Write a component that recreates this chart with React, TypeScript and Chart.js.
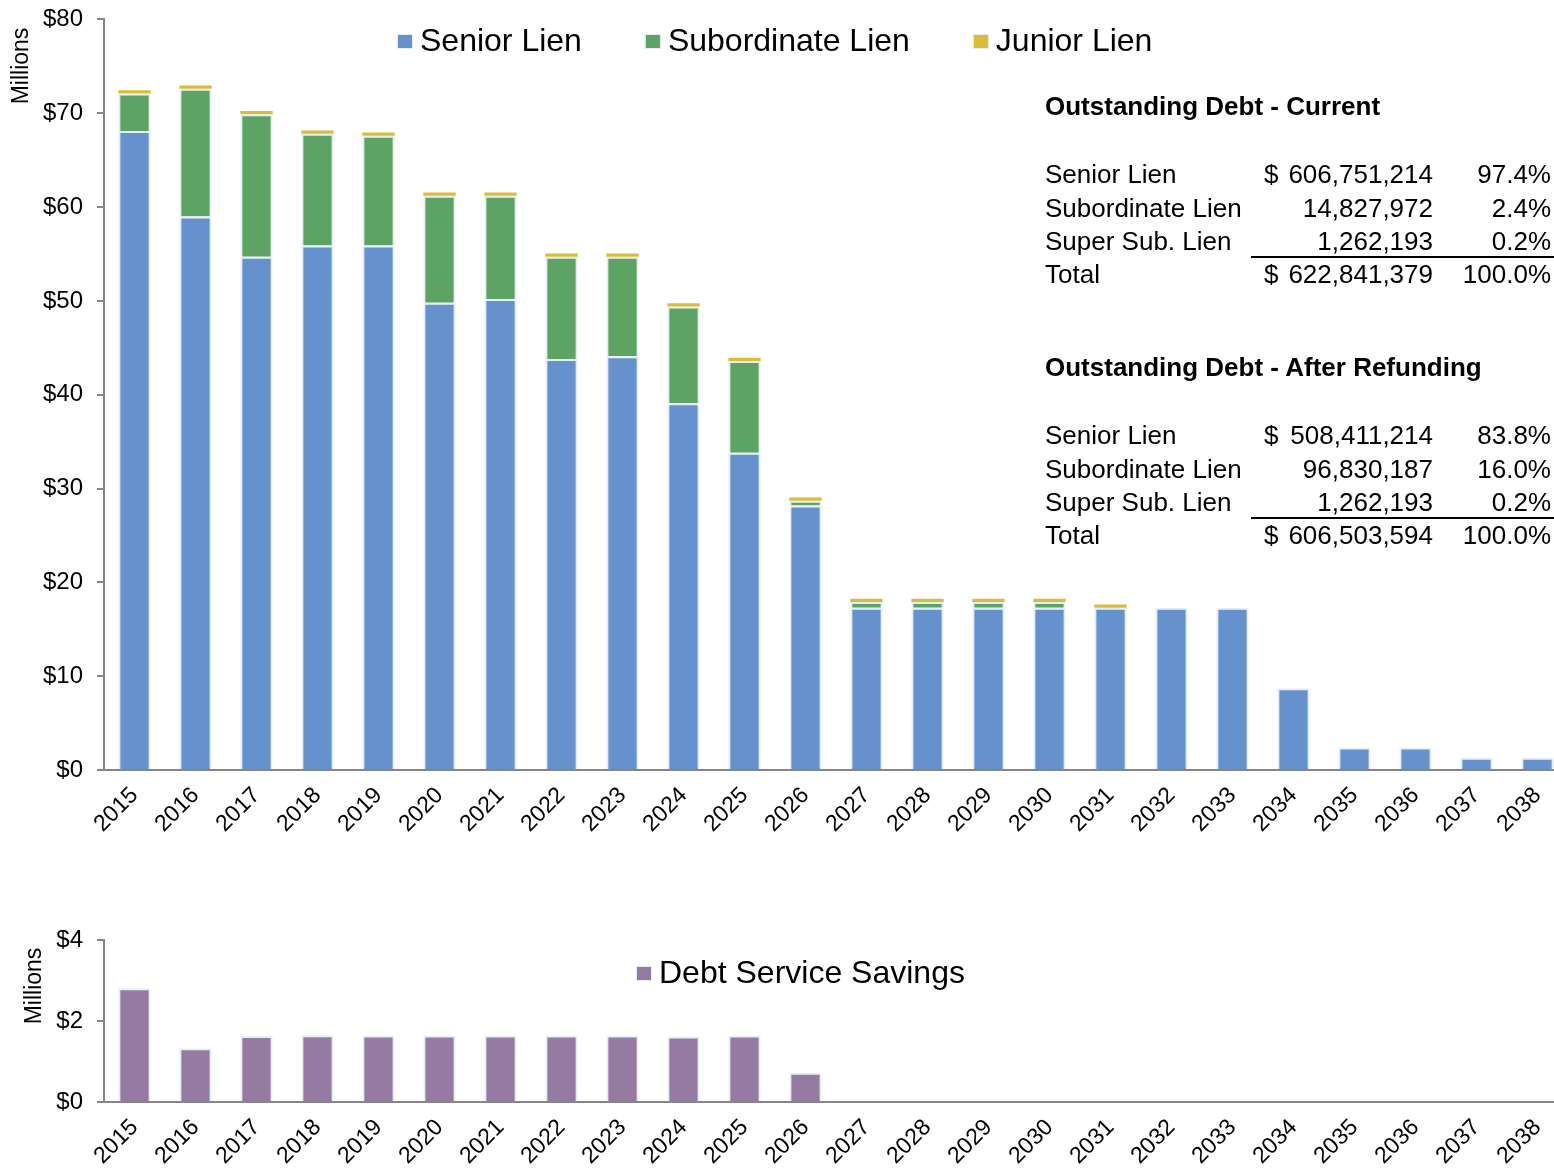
import React, { useEffect, useRef } from 'react';
import { Chart, registerables } from 'chart.js';

Chart.register(...registerables);

// ---------------- data ----------------
const years = [
  '2015', '2016', '2017', '2018', '2019', '2020', '2021', '2022', '2023', '2024', '2025', '2026',
  '2027', '2028', '2029', '2030', '2031', '2032', '2033', '2034', '2035', '2036', '2037', '2038',
];

// $ millions
const seniorLien = [
  68.1, 59.0, 54.7, 55.9, 55.9, 49.8, 50.2, 43.8, 44.1, 39.1, 33.8, 28.2,
  17.3, 17.3, 17.3, 17.3, 17.3, 17.3, 17.3, 8.7, 2.4, 2.4, 1.3, 1.3,
];
const subordinateLien = [
  4.0, 13.6, 15.2, 11.9, 11.7, 11.4, 11.0, 10.9, 10.6, 10.3, 9.8, 0.5,
  0.6, 0.6, 0.6, 0.6, 0, 0, 0, 0, 0, 0, 0, 0,
];
const juniorLien = [
  0.35, 0.35, 0.35, 0.35, 0.35, 0.35, 0.35, 0.35, 0.35, 0.35, 0.35, 0.35,
  0.35, 0.35, 0.35, 0.35, 0.35, 0, 0, 0, 0, 0, 0, 0,
];
const debtServiceSavings = [
  2.81, 1.33, 1.63, 1.65, 1.64, 1.64, 1.64, 1.64, 1.64, 1.62, 1.64, 0.72,
  0.02, 0.02, 0.02, 0.02, 0.02, 0, 0, 0, 0, 0, 0, 0,
];

const topAxisMax = 80;
const topAxisStep = 10;
const bottomAxisMax = 4;
const bottomAxisStep = 2;

const tableLabels = ['Senior Lien', 'Subordinate Lien', 'Super Sub. Lien', 'Total'];
const tableDollarSign = [true, false, false, true];
const currentTitle = 'Outstanding Debt - Current';
const currentAmounts = ['606,751,214', '14,827,972', '1,262,193', '622,841,379'];
const currentPercents = ['97.4%', '2.4%', '0.2%', '100.0%'];
const afterTitle = 'Outstanding Debt - After Refunding';
const afterAmounts = ['508,411,214', '96,830,187', '1,262,193', '606,503,594'];
const afterPercents = ['83.8%', '16.0%', '0.2%', '100.0%'];

// ---------------- styles ----------------
const FONT = '"Liberation Sans", Arial, Helvetica, sans-serif';
const BLUE = '#6592CC';
const GREEN = '#5DA464';
const YELLOW = '#D9BC37';
const PURPLE = '#957AA2';
const BAR_EDGE = '#E6EEF5';
const AXIS = '#868686';

type DecorCfg = { mx: number; my: number; lx: number; lb: number };

function decorPlugin(cfg: DecorCfg) {
  return {
    id: 'decor',
    afterDraw(chart: any) {
      const ctx = chart.ctx as CanvasRenderingContext2D;
      ctx.save();
      ctx.font = `23px ${FONT}`;
      ctx.fillStyle = '#000';
      ctx.translate(cfg.mx, cfg.my);
      ctx.rotate(-Math.PI / 2);
      ctx.textAlign = 'center';
      ctx.textBaseline = 'middle';
      ctx.fillText('Millions', 0, 0);
      ctx.restore();

      ctx.save();
      ctx.font = `32px ${FONT}`;
      let x = cfg.lx;
      chart.data.datasets.forEach((ds: any) => {
        ctx.fillStyle = ds.backgroundColor;
        ctx.fillRect(x, cfg.lb - 17, 16, 15);
        ctx.strokeStyle = BAR_EDGE;
        ctx.lineWidth = 1;
        ctx.strokeRect(x + 0.5, cfg.lb - 16.5, 15, 14);
        ctx.fillStyle = '#000';
        ctx.textAlign = 'left';
        ctx.textBaseline = 'alphabetic';
        ctx.fillText(ds.label, x + 23, cfg.lb);
        x += 23 + ctx.measureText(ds.label).width + 63;
      });
      ctx.restore();
    },
  };
}

function makeOptions(max: number, step: number, xHeight: number, padTop: number) {
  return {
    responsive: false,
    animation: false as const,
    devicePixelRatio: 1,
    layout: { padding: { top: padTop, right: 2, left: 0, bottom: 0 } },
    plugins: { legend: { display: false }, tooltip: { enabled: false } },
    scales: {
      x: {
        stacked: true,
        grid: { display: false, drawTicks: false, tickLength: 0 },
        border: { display: true, color: AXIS, width: 2 },
        ticks: {
          color: '#000',
          font: { family: FONT, size: 23 },
          minRotation: 45,
          maxRotation: 45,
          autoSkip: false,
          padding: 12,
        },
        afterFit: (scale: any) => {
          scale.height = xHeight;
        },
      },
      y: {
        stacked: true,
        min: 0,
        max,
        grid: { drawOnChartArea: false, drawTicks: true, tickLength: 7, color: AXIS, lineWidth: 2 },
        border: { display: true, color: AXIS, width: 2 },
        ticks: {
          stepSize: step,
          color: '#000',
          font: { family: FONT, size: 24 },
          padding: 14,
          callback: (v: any) => '$' + v,
        },
        afterFit: (scale: any) => {
          scale.width = 104;
        },
      },
    },
  };
}

function TableBlock({ top, title, amounts, percents }: { top: number; title: string; amounts: string[]; percents: string[] }) {
  const rowTops = [68, 102, 135, 168];
  return (
    <>
      <div style={{ position: 'absolute', left: 1045, top, fontWeight: 'bold', whiteSpace: 'nowrap' }}>{title}</div>
      {tableLabels.map((lab, i) => (
        <React.Fragment key={lab}>
          <div style={{ position: 'absolute', left: 1045, top: top + rowTops[i], whiteSpace: 'nowrap' }}>{lab}</div>
          {tableDollarSign[i] && (
            <div style={{ position: 'absolute', left: 1264, top: top + rowTops[i] }}>$</div>
          )}
          <div style={{ position: 'absolute', left: 1265, width: 168, textAlign: 'right', top: top + rowTops[i] }}>{amounts[i]}</div>
          <div style={{ position: 'absolute', left: 1451, width: 100, textAlign: 'right', top: top + rowTops[i] }}>{percents[i]}</div>
        </React.Fragment>
      ))}
      <div style={{ position: 'absolute', left: 1251, width: 320, top: top + 167, height: 2, background: '#000' }} />
    </>
  );
}

// canvas of the top chart starts above the page so its plot top lands at y=18
const TOP_SHIFT = 9;

export default function App() {
  const topRef = useRef<HTMLCanvasElement | null>(null);
  const botRef = useRef<HTMLCanvasElement | null>(null);

  useEffect(() => {
    const barCommon = { categoryPercentage: 0.53, barPercentage: 1, borderSkipped: 'start' as const };
    const top = new Chart(topRef.current as HTMLCanvasElement, {
      type: 'bar',
      data: {
        labels: years,
        datasets: [
          { label: 'Senior Lien', data: seniorLien, backgroundColor: BLUE, borderColor: BAR_EDGE, borderWidth: 2, ...barCommon },
          { label: 'Subordinate Lien', data: subordinateLien, backgroundColor: GREEN, borderColor: BAR_EDGE, borderWidth: 2, ...barCommon },
          { label: 'Junior Lien', data: juniorLien, backgroundColor: YELLOW, borderColor: YELLOW, borderWidth: 0, ...barCommon },
        ],
      },
      options: makeOptions(topAxisMax, topAxisStep, 80, 18) as any,
      plugins: [decorPlugin({ mx: 22, my: 66 + TOP_SHIFT, lx: 397, lb: 51 + TOP_SHIFT })],
    });
    const bot = new Chart(botRef.current as HTMLCanvasElement, {
      type: 'bar',
      data: {
        labels: years,
        datasets: [
          { label: 'Debt Service Savings', data: debtServiceSavings, backgroundColor: PURPLE, borderColor: BAR_EDGE, borderWidth: 2, ...barCommon },
        ],
      },
      options: makeOptions(bottomAxisMax, bottomAxisStep, 69, 40) as any,
      plugins: [decorPlugin({ mx: 35, my: 86, lx: 636, lb: 83 })],
    });
    return () => {
      top.destroy();
      bot.destroy();
    };
  }, []);

  return (
    <div
      style={{
        position: 'fixed',
        left: 0,
        top: 0,
        width: 1554,
        height: 1171,
        overflow: 'hidden',
        background: '#fff',
        fontFamily: FONT,
        fontSize: 26,
        lineHeight: '34px',
        color: '#000',
      }}
    >
      <canvas
        ref={topRef}
        width={1570}
        height={850 + TOP_SHIFT}
        style={{ position: 'absolute', left: 0, top: -TOP_SHIFT, width: 1570, height: 850 + TOP_SHIFT }}
      />
      <canvas ref={botRef} width={1570} height={271} style={{ position: 'absolute', left: 0, top: 900, width: 1570, height: 271 }} />
      <TableBlock top={89} title={currentTitle} amounts={currentAmounts} percents={currentPercents} />
      <TableBlock top={350} title={afterTitle} amounts={afterAmounts} percents={afterPercents} />
    </div>
  );
}
